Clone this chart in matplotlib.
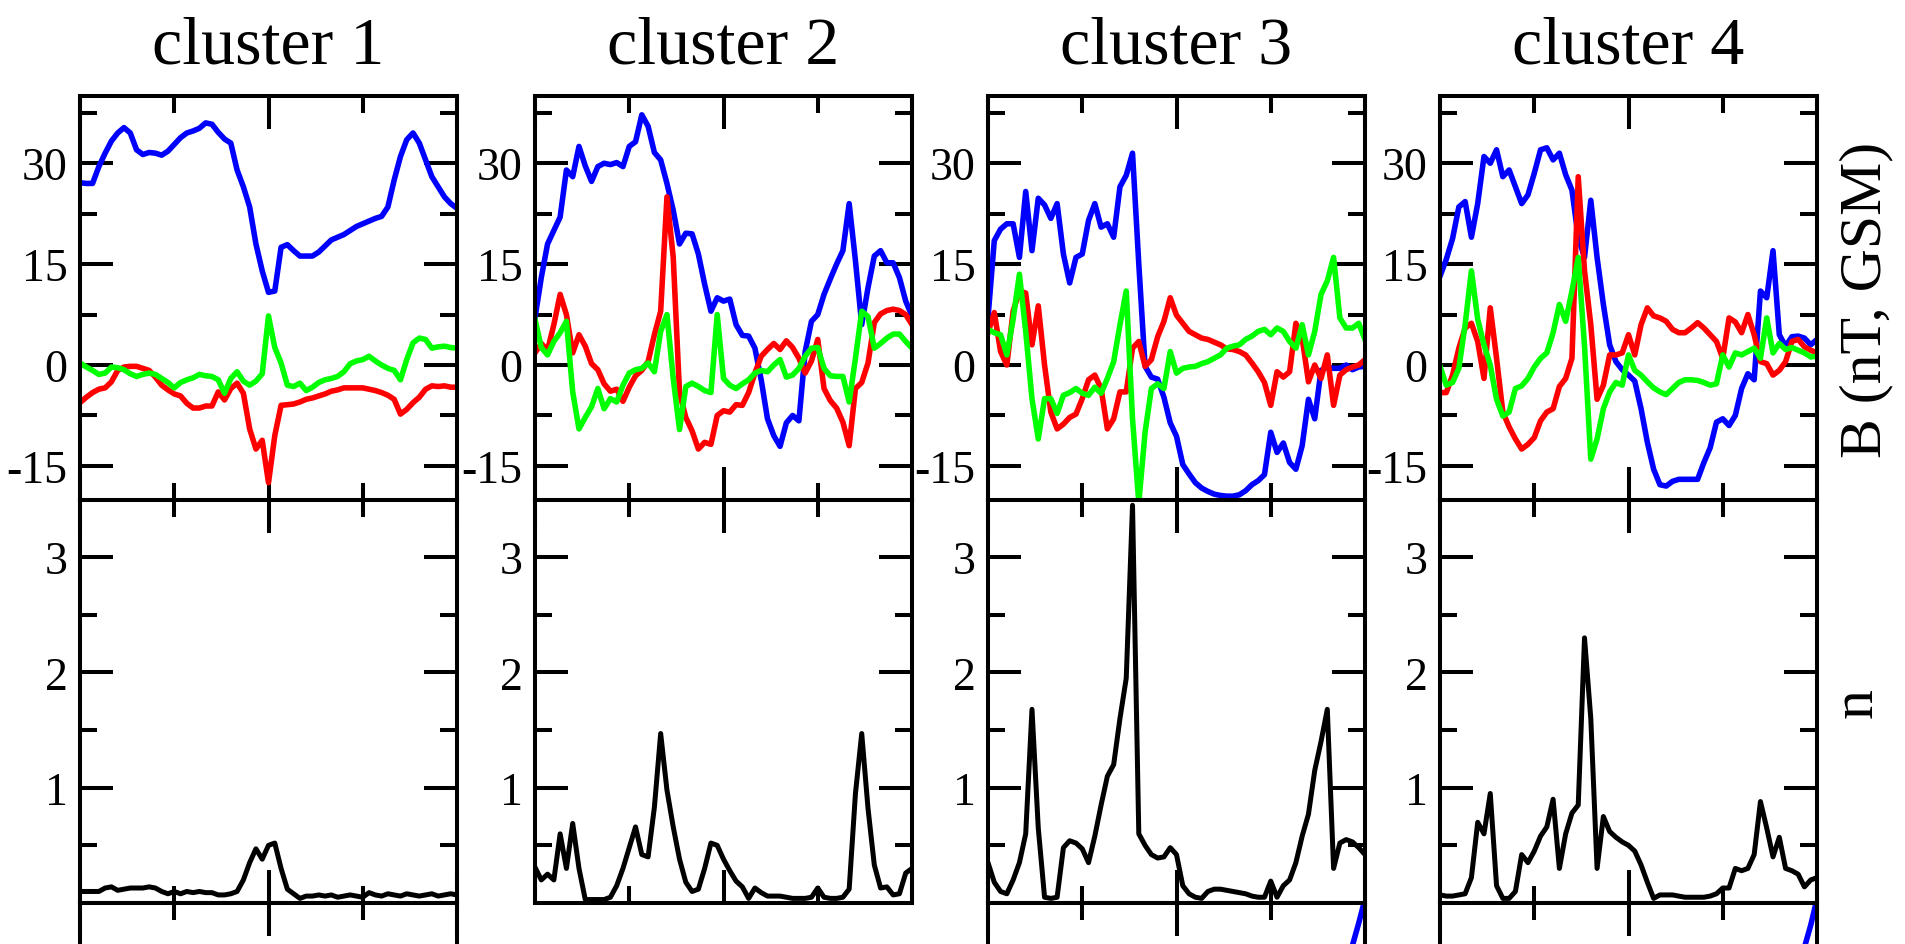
import numpy as np
import matplotlib
matplotlib.use("Agg")
import matplotlib.pyplot as plt

plt.rcParams["font.family"] = ["Liberation Serif", "DejaVu Serif"]

# B components (nT, GSM) and density, sampled evenly over the interval
c1_blue = [27.1, 27, 27, 29.5, 31.5, 33.3, 34.5, 35.3, 34.5, 32, 31.3, 31.6, 31.5, 31.2, 31.8, 32.8, 33.8, 34.5, 34.8, 35.2,
           36, 35.8, 34.6, 33.6, 33, 29, 26.5, 23.5, 18, 14, 10.8, 11, 17.5, 17.9, 17, 16.2, 16.2, 16.2, 16.8, 17.7,
           18.6, 19, 19.4, 20, 20.6, 21, 21.4, 21.8, 22.1, 23.5, 27.5, 31, 33.5, 34.5, 33, 30.5, 28, 26.5, 25, 24, 23.3]
c1_red = [-5.6, -4.8, -4.1, -3.6, -3.4, -2.5, -0.8, -0.3, -0.2, -0.2, -0.5, -0.8, -1.8, -3, -3.7, -4.3, -4.6, -5.7, -6.4, -6.4,
          -6.1, -6.1, -4, -5.2, -3.5, -2.7, -4.2, -9.5, -12.5, -11.2, -17.5, -10.5, -6, -5.9, -5.8, -5.5, -5.1, -4.9, -4.6, -4.3,
          -3.9, -3.7, -3.4, -3.4, -3.4, -3.4, -3.6, -3.8, -4.1, -4.5, -5.1, -7.3, -6.6, -5.6, -4.8, -3.6, -3.1, -3.2, -3.1, -3.3, -3.3]
c1_green = [0.3, -0.3, -0.8, -1.4, -1.2, -0.3, -0.4, -0.7, -1.3, -1.7, -1.4, -1.2, -1.4, -2.0, -2.6, -3.4, -2.6, -2.2, -1.9, -1.4,
            -1.6, -1.7, -2.2, -4.2, -2.0, -1.0, -2.4, -3.0, -2.4, -1.3, 7.3, 2.6, 0.3, -3.0, -3.2, -2.7, -3.8, -3.3, -2.6, -2.2,
            -2.0, -1.7, -1.0, 0.2, 0.6, 0.8, 1.3, 0.6, 0, -0.5, -0.8, -2.2, 0.8, 3.3, 4, 3.8, 2.5, 2.7, 2.8, 2.6, 2.5]
c1_n = [0.1, 0.1, 0.1, 0.1, 0.13, 0.14, 0.11, 0.12, 0.13, 0.13, 0.13, 0.14, 0.13, 0.1, 0.08, 0.1, 0.08, 0.1, 0.09, 0.1,
        0.09, 0.09, 0.07, 0.07, 0.08, 0.1, 0.2, 0.35, 0.47, 0.38, 0.5, 0.52, 0.3, 0.12, 0.08, 0.04, 0.06, 0.06, 0.07, 0.06,
        0.07, 0.05, 0.06, 0.07, 0.06, 0.05, 0.09, 0.07, 0.06, 0.08, 0.07, 0.06, 0.08, 0.07, 0.06, 0.07, 0.08, 0.06, 0.07, 0.08, 0.07]

c2_blue = [7, 13, 18, 20, 22, 29, 28, 32.5, 29.6, 27.3, 29.5, 30, 29.8, 30.1, 29.5, 32.5, 33.2, 37.2, 35.5, 31.6,
           30.5, 27, 23, 18, 19.6, 19.5, 16.5, 12, 8, 10, 9.5, 9.8, 6, 4.4, 4.3, 2.5, -2.2, -8, -10.5, -12.1,
           -8.6, -7.5, -8.3, 2, 6.5, 7.5, 10.5, 12.8, 15, 17, 24, 15.5, 6, 11.5, 16.2, 17, 15.2, 15.2, 13, 9.5, 7.3]
c2_red = [1.8, 3.2, 2.2, 6, 10.5, 7.5, 1.8, 4.5, 2.8, 0.2, -0.7, -2.8, -3.9, -3.6, -5.4, -3.3, -1.6, -0.8, 0.5, 4.5,
          8, 25, 16, -4.1, -7.8, -9.8, -12.5, -11.5, -11.8, -7.5, -6.8, -7, -5.9, -6, -4.1, -1.2, 1.3, 2.3, 3.2, 2.3,
          3.6, 2.6, 1, -1.2, 0.6, 3.8, -3.5, -5.3, -6.4, -8.5, -12, -3.5, -2.6, 0.3, 6.3, 7.6, 8.1, 8.3, 8.1, 7.5, 6]
c2_green = [6.8, 2.6, 1.5, 3.5, 4.8, 6.5, -4, -9.5, -7.8, -6.2, -3.5, -6.5, -5, -5.5, -3, -1.2, -0.7, -0.5, 0.3, -1,
            5, 7.5, -2, -9.6, -3.2, -2.7, -3.2, -3.8, -4.1, 7.5, -2, -3, -3.5, -2.8, -2.2, -1.2, -0.8, -1, 0, 0.8,
            -1.8, -1.5, -0.5, 1.3, 2.5, 2.6, -0.5, -1.6, -1.7, -1.7, -5.5, 1, 8, 7.2, 2.5, 3.2, 4, 4.6, 4.6, 3.5, 2.5]
c2_n = [0.31, 0.2, 0.25, 0.2, 0.6, 0.3, 0.69, 0.3, 0.03, 0.03, 0.03, 0.03, 0.05, 0.15, 0.3, 0.48, 0.66, 0.42, 0.4, 0.83,
        1.47, 0.98, 0.66, 0.38, 0.18, 0.1, 0.12, 0.3, 0.52, 0.5, 0.38, 0.28, 0.19, 0.14, 0.04, 0.13, 0.09, 0.06, 0.06, 0.06,
        0.05, 0.04, 0.04, 0.04, 0.05, 0.13, 0.05, 0.04, 0.04, 0.05, 0.12, 0.95, 1.47, 0.82, 0.33, 0.13, 0.14, 0.07, 0.08, 0.26, 0.3]

c3_blue = [7, 18.5, 20.2, 21, 21, 16, 25.8, 17, 24.8, 23.8, 21.8, 24, 16.5, 12.2, 16, 16.5, 21.5, 24, 20.5, 21,
           19, 26.5, 28.2, 31.5, 15, -0.2, -1.8, -2.1, -4.8, -8.6, -10.6, -14.8, -16.2, -17.5, -18.3, -18.8, -19.2, -19.4, -19.5, -19.5,
           -19.3, -18.7, -17.8, -17.2, -16.3, -10, -13, -11.6, -14.5, -15.5, -12, -5.1, -8, -0.8, -0.3, -0.5, -0.5, 0, -0.7, -0.3, -0.2]
c3_red = [4.8, 7.8, 2, 0, 8, 11, 10.7, 3, 8.8, 0, -7, -9.5, -8.8, -7.8, -7.3, -5, -2.2, -1.5, -3.5, -9.5,
          -8, -4, -4, 2.5, 3.5, -0.2, 0.8, 4.2, 6.5, 10, 7.4, 6.2, 5, 4.5, 4, 3.8, 3.4, 3, 2.4, 2.3,
          2, 1.5, 0.3, -1, -2.6, -6, -1, -1.8, -1, 6.2, 4, -2.5, 0, -2, 1.5, -6, -1.5, -0.7, -0.3, 0, 0.8]
c3_green = [5.3, 4.8, 4.5, 1.5, 6.8, 13.5, 5, -5, -11, -5, -5, -7.2, -4.5, -4.1, -3.5, -4.2, -4.5, -3.3, -4.2, -2,
            0.5, 6, 11, -8, -20.5, -10, -3.5, -2.8, -3.5, 2, -1.2, -0.5, -0.3, -0.2, 0.2, 0.5, 1, 1.5, 2.5, 2.8,
            3, 3.8, 4.3, 5, 5.3, 4.5, 5.5, 5, 3.5, 2.5, 6, 1.5, 5, 10.5, 12.5, 16, 7, 5.5, 5.5, 6.2, 3.8]
c3_n = [0.35, 0.18, 0.1, 0.08, 0.2, 0.35, 0.6, 1.68, 0.65, 0.05, 0.04, 0.05, 0.48, 0.54, 0.52, 0.47, 0.35, 0.58, 0.85, 1.1,
        1.2, 1.6, 1.95, 3.45, 0.6, 0.5, 0.42, 0.39, 0.4, 0.48, 0.42, 0.15, 0.08, 0.05, 0.04, 0.1, 0.12, 0.12, 0.11, 0.1,
        0.09, 0.08, 0.06, 0.05, 0.05, 0.19, 0.05, 0.15, 0.2, 0.35, 0.58, 0.77, 1.15, 1.4, 1.68, 0.3, 0.52, 0.55, 0.53, 0.48, 0.42]

c4_blue = [13.2, 15.7, 18.8, 23.5, 24.3, 19, 24, 31, 30, 32, 28, 29, 26.5, 24, 25.3, 28.5, 32, 32.3, 30.5, 31.5,
           28.3, 26, 19, 16, 24.5, 16, 9, 3, 0.5, -0.7, -1.5, -2.4, -6.5, -11.5, -15.5, -17.8, -18, -17.3, -17, -17,
           -17, -17, -14.5, -12.3, -8.5, -8, -9, -7.5, -3.5, -1.3, -2.2, 11, 10, 17, 4.5, 2.8, 4.2, 4.3, 4.0, 3, 3.8]
c4_red = [-4.1, -4.1, -1.5, 2.5, 5.5, 6.2, 3.5, -2, 8.5, 1, -7, -9.2, -11, -12.5, -11.8, -10.8, -8.3, -7, -6.5, -3.2,
          -2, 1, 28, 14, 6, -5.1, -3, 1.5, 1.5, 1.8, 4.5, 1.5, 6, 8.5, 7.3, 7, 6.5, 5.3, 4.8, 4.8,
          5.5, 6.3, 5.5, 4.5, 3.5, 1, 7, 6.4, 4.8, 7.5, 4.5, 0.5, 0.2, -1.5, -0.8, 0.5, 3.5, 3.8, 2.7, 2.2, 1.8]
c4_green = [-0.2, -3, -2.6, -0.5, 6, 14, 6.8, 3, 0, -5.1, -7.6, -7, -3.5, -3.1, -2, -0.3, 1, 1.8, 4.8, 9,
            6.5, 11, 16, 2.8, -14, -11, -6.5, -4, -2.6, -3, 1.5, -0.8, -1.5, -2.5, -3.4, -4, -4.4, -3.5, -2.6, -2.2,
            -2.2, -2.3, -2.6, -3, -2.8, 1.5, -0.3, 1.8, 1.5, 2, 2.5, 1, 7, 1.8, 3.2, 2.3, 2.6, 2.2, 1.8, 1.2, 1.3]
c4_n = [0.07, 0.06, 0.06, 0.07, 0.08, 0.22, 0.7, 0.6, 0.95, 0.15, 0.04, 0.04, 0.1, 0.42, 0.35, 0.45, 0.58, 0.66, 0.9, 0.3,
        0.6, 0.78, 0.85, 2.3, 1.6, 0.3, 0.75, 0.62, 0.57, 0.53, 0.5, 0.45, 0.33, 0.18, 0.04, 0.07, 0.07, 0.07, 0.06, 0.05,
        0.05, 0.05, 0.05, 0.06, 0.08, 0.13, 0.13, 0.3, 0.28, 0.3, 0.42, 0.88, 0.65, 0.4, 0.57, 0.3, 0.28, 0.25, 0.14, 0.2, 0.22]

# visible start of the (cut off) third row
v_t = [56, 57, 58, 59, 60]
c3_v = [0.79, 0.845, 0.895, 0.95, 1.01]
c4_v = [0.78, 0.835, 0.89, 0.945, 1.01]

titles = ["cluster 1", "cluster 2", "cluster 3", "cluster 4"]
b_data = [(c1_blue, c1_red, c1_green), (c2_blue, c2_red, c2_green),
          (c3_blue, c3_red, c3_green), (c4_blue, c4_red, c4_green)]
n_data = [c1_n, c2_n, c3_n, c4_n]
v_data = [[], None, c3_v, c4_v]

W, H = 1905, 945
fig = plt.figure(figsize=(W / 100, H / 100), dpi=100)

lefts = [80, 535, 988, 1440]
pw = 377
y_top, y_mid, y_bot = 97, 500.5, 904
ph = (y_mid - y_top) / H


def style(ax):
    for s in ax.spines.values():
        s.set_linewidth(2.9)
    ax.set_xlim(0, 60)
    ax.set_xticks([0, 30, 60])
    ax.set_xticks([15, 45], minor=True)
    ax.tick_params(which="both", direction="in", top=True, right=True, width=2.9,
                   labelbottom=False, labelsize=33, pad=9)
    ax.tick_params(which="major", length=24)
    ax.tick_params(which="minor", length=12.5)


for i in range(4):
    x0 = lefts[i] / W
    axb = fig.add_axes([x0, 1 - y_mid / H, pw / W, ph])
    axn = fig.add_axes([x0, 1 - y_bot / H, pw / W, ph])

    blue, red, green = b_data[i]
    for y, c in [(blue, "#0000ff"), (red, "#ff0000"), (green, "#00ff00")]:
        axb.plot(np.arange(len(y)), y, color=c, lw=4.0)
    style(axb)
    axb.set_ylim(-20, 40)
    axb.set_yticks([-15, 0, 15, 30])
    axb.set_yticklabels(["-15", "0", "15", "30"])
    axb.set_yticks([-7.5, 7.5, 22.5, 37.5], minor=True)

    n = n_data[i]
    axn.plot(np.arange(len(n)), n, color="black", lw=3.6)
    style(axn)
    axn.set_ylim(0, 3.5)
    axn.set_yticks([1, 2, 3])
    axn.set_yticklabels(["1", "2", "3"])
    axn.set_yticks([0.5, 1.5, 2.5], minor=True)

    if v_data[i] is not None:
        axv = fig.add_axes([x0, 1 - y_bot / H - ph, pw / W, ph])
        if len(v_data[i]):
            axv.plot(v_t, v_data[i], color="#0000ff", lw=4.0)
        style(axv)
        axv.set_ylim(0, 1)
        axv.set_yticks([])

    fig.text((lefts[i] + pw / 2) / W, 1 - 63 / H, titles[i], ha="center", va="baseline", fontsize=49)

fig.text(1866 / W, 1 - 300 / H, "B (nT, GSM)", rotation=90, ha="center", va="center", fontsize=43)
fig.text(1858 / W, 1 - 703 / H, "n", rotation=90, ha="center", va="center", fontsize=43)

fig.savefig("out.png", dpi=100)
